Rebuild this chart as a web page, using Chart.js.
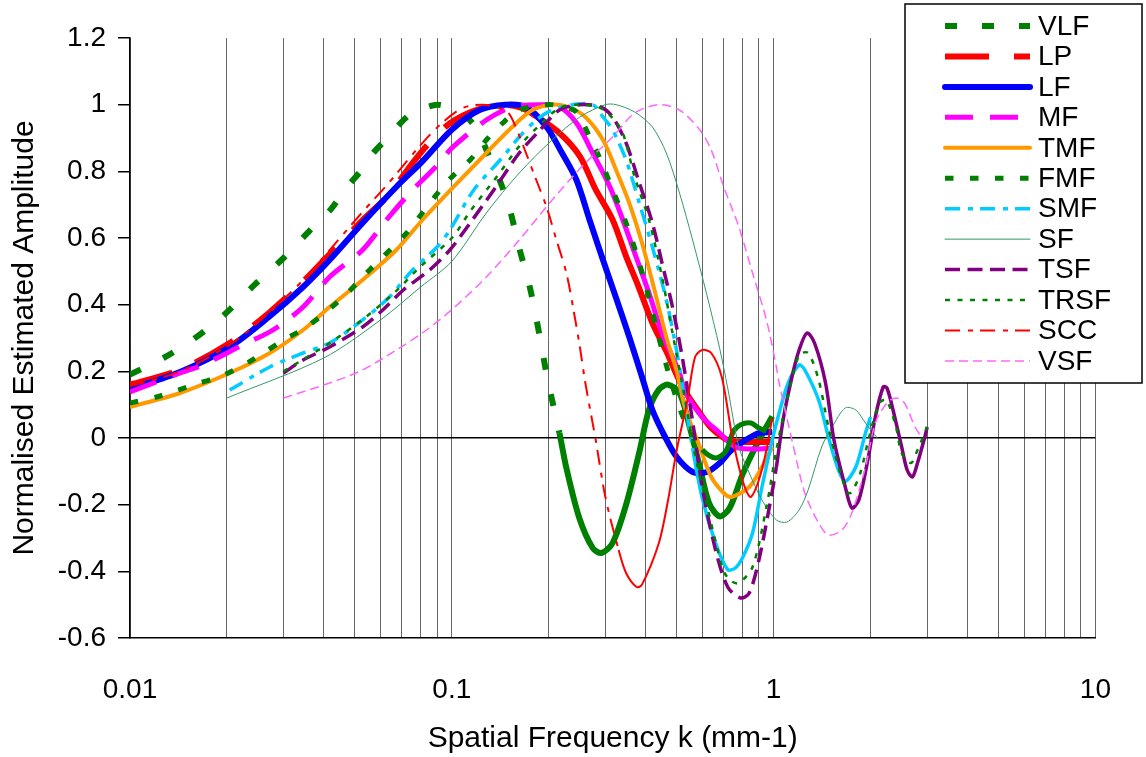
<!DOCTYPE html>
<html>
<head>
<meta charset="utf-8">
<script src="https://cdn.jsdelivr.net/npm/chart.js@4.4.1/dist/chart.umd.min.js"></script>
<style>
  html, body { margin: 0; padding: 0; background: #fff; }
  #wrap { width: 1146px; height: 757px; position: relative; }
</style>
</head>
<body>
<div id="wrap"><canvas id="chart"></canvas></div>
<script>
// Normalised amplitude vs spatial frequency, one [k, amplitude] list per filter

const VLF = [[0.01,0.19],[0.0127,0.24],[0.0154,0.29],[0.0186,0.35],[0.0204,0.385],[0.0244,0.46],[0.03,0.54],
  [0.036,0.62],[0.042,0.685],[0.047,0.75],[0.052,0.80],[0.057,0.855],[0.063,0.90],[0.067,0.93],[0.075,0.975],
  [0.082,0.99],[0.09,1.0],[0.1,0.99],[0.108,0.975],[0.12,0.925],[0.128,0.865],[0.14,0.78],[0.151,0.69],
  [0.162,0.57],[0.175,0.45],[0.188,0.30],[0.198,0.18],[0.216,0.015],[0.227,-0.09],[0.249,-0.24],[0.274,-0.33],
  [0.292,-0.345],[0.316,-0.315],[0.348,-0.2],[0.382,-0.045],[0.41,0.085],[0.44,0.145],[0.47,0.16],[0.51,0.135],
  [0.548,0.035],[0.589,-0.085],[0.63,-0.195],[0.68,-0.235],[0.73,-0.21],[0.8,-0.11],[0.88,-0.025],[0.99,0.065]];

const LP = [[0.01,0.16],[0.0143,0.205],[0.0204,0.285],[0.027,0.375],[0.035,0.475],[0.044,0.575],[0.053,0.655],
  [0.063,0.725],[0.0755,0.825],[0.085,0.885],[0.099,0.945],[0.12,0.985],[0.144,1.0],[0.165,0.99],[0.183,0.965],
  [0.216,0.915],[0.25,0.845],[0.28,0.745],[0.316,0.655],[0.348,0.545],[0.38,0.455],[0.42,0.345],[0.464,0.26],
  [0.52,0.155],[0.59,0.075],[0.64,0.03],[0.7,0.0],[0.74,-0.01],[0.86,-0.012],[0.99,-0.012]];

const LF = [[0.01,0.147],[0.0143,0.198],[0.0204,0.273],[0.027,0.363],[0.0345,0.453],[0.0417,0.534],[0.0528,0.645],
  [0.0672,0.753],[0.081,0.83],[0.1,0.925],[0.122,0.984],[0.147,1.0],[0.17,0.993],[0.197,0.933],[0.22,0.855],
  [0.244,0.774],[0.268,0.654],[0.295,0.534],[0.324,0.42],[0.356,0.303],[0.39,0.183],[0.42,0.084],[0.46,0.003],
  [0.5,-0.057],[0.56,-0.102],[0.62,-0.102],[0.68,-0.075],[0.74,-0.036],[0.82,-0.006],[0.9,0.015],[0.99,0.018]];

const MF = [[0.01,0.138],[0.0143,0.195],[0.0168,0.219],[0.0224,0.279],[0.0278,0.324],[0.0345,0.393],[0.0417,0.483],
  [0.0528,0.564],[0.0626,0.654],[0.0755,0.744],[0.0916,0.825],[0.1,0.87],[0.128,0.954],[0.154,0.993],[0.186,1.0],
  [0.216,0.993],[0.244,0.945],[0.274,0.855],[0.31,0.753],[0.34,0.654],[0.37,0.555],[0.41,0.435],[0.45,0.315],
  [0.51,0.195],[0.53,0.14],[0.6,0.063],[0.68,0.015],[0.76,-0.027],[0.86,-0.033],[0.99,-0.03]];

const TMF = [[0.01,0.093],[0.0143,0.135],[0.0204,0.195],[0.0272,0.255],[0.0345,0.324],[0.0417,0.393],[0.0528,0.474],
  [0.0672,0.564],[0.081,0.654],[0.1,0.748],[0.128,0.855],[0.154,0.933],[0.178,0.984],[0.205,1.0],[0.23,0.993],
  [0.26,0.963],[0.295,0.894],[0.324,0.804],[0.356,0.705],[0.39,0.585],[0.43,0.43],[0.464,0.303],[0.5,0.2],
  [0.53,0.093],[0.59,-0.027],[0.64,-0.117],[0.7,-0.165],[0.74,-0.177],[0.84,-0.147],[0.92,-0.087],[0.99,-0.027]];

const FMF = [[0.01,0.105],[0.0121,0.123],[0.0164,0.165],[0.019,0.183],[0.024,0.234],[0.03,0.294],[0.0354,0.333],
  [0.046,0.423],[0.0555,0.504],[0.0724,0.615],[0.081,0.675],[0.092,0.744],[0.1,0.783],[0.114,0.834],[0.128,0.894],
  [0.144,0.945],[0.162,0.984],[0.197,1.0],[0.22,0.995],[0.244,0.978],[0.268,0.903],[0.29,0.834],[0.316,0.744],
  [0.348,0.645],[0.38,0.534],[0.41,0.42],[0.44,0.3],[0.485,0.155],[0.53,0.05],[0.6,-0.035],[0.66,-0.06],
  [0.71,-0.04],[0.75,0.02],[0.79,0.04],[0.85,0.045],[0.9,0.03],[0.95,0.02]];

const SMF = [[0.0204,0.144],[0.0272,0.213],[0.0345,0.255],[0.0417,0.285],[0.0528,0.354],[0.064,0.423],[0.0755,0.504],
  [0.09,0.573],[0.0986,0.624],[0.117,0.744],[0.144,0.843],[0.162,0.903],[0.183,0.954],[0.205,0.984],[0.238,1.0],
  [0.274,1.0],[0.295,0.963],[0.316,0.924],[0.348,0.834],[0.38,0.714],[0.42,0.573],[0.464,0.414],[0.5,0.26],
  [0.52,0.16],[0.56,-0.03],[0.6,-0.18],[0.66,-0.315],[0.72,-0.395],[0.76,-0.39],[0.8,-0.36],[0.86,-0.285],
  [0.92,-0.147],[0.99,-0.006],[1.04,0.075],[1.11,0.165],[1.2,0.219],[1.25,0.204],[1.38,0.114],[1.48,0.003],
  [1.59,-0.096],[1.67,-0.13],[1.8,-0.087],[1.93,0.015],[2.0,0.063]];

const SF = [[0.02,0.12],[0.04,0.24],[0.06,0.354],[0.08,0.453],[0.1,0.53],[0.128,0.675],[0.162,0.795],[0.205,0.894],
  [0.25,0.963],[0.3,1.0],[0.324,1.0],[0.37,0.978],[0.42,0.933],[0.464,0.855],[0.51,0.735],[0.56,0.594],
  [0.62,0.43],[0.68,0.268],[0.72,0.15],[0.78,-0.027],[0.84,-0.105],[0.92,-0.186],[1.02,-0.246],[1.1,-0.252],
  [1.2,-0.216],[1.28,-0.156],[1.41,-0.027],[1.52,0.033],[1.67,0.09],[1.8,0.084],[1.93,0.045],[2.1,0.0]];

const TSF = [[0.03,0.195],[0.0345,0.234],[0.0417,0.273],[0.0528,0.333],[0.061,0.384],[0.0707,0.444],[0.0853,0.504],
  [0.0986,0.564],[0.114,0.645],[0.137,0.753],[0.162,0.855],[0.188,0.924],[0.216,0.984],[0.25,1.0],[0.29,0.993],
  [0.316,0.963],[0.348,0.885],[0.38,0.774],[0.42,0.645],[0.45,0.525],[0.485,0.393],[0.52,0.243],[0.56,0.05],
  [0.6,-0.147],[0.66,-0.336],[0.72,-0.447],[0.79,-0.48],[0.84,-0.465],[0.9,-0.366],[0.97,-0.207],[1.02,-0.087],
  [1.07,0.054],[1.14,0.183],[1.2,0.264],[1.27,0.315],[1.34,0.285],[1.45,0.165],[1.54,-0.006],[1.67,-0.147],
  [1.75,-0.21],[1.84,-0.186],[1.97,-0.057],[2.07,0.063],[2.19,0.153],[2.25,0.15],[2.35,0.084],[2.5,-0.027],
  [2.6,-0.096],[2.7,-0.117],[2.8,-0.075],[2.95,0.003],[3.0,0.033]];

const TRSF = [[0.03,0.2],[0.0417,0.285],[0.0528,0.355],[0.067,0.44],[0.079,0.51],[0.1,0.6],[0.114,0.68],[0.137,0.78],
  [0.162,0.875],[0.188,0.94],[0.216,0.99],[0.25,1.0],[0.29,0.99],[0.316,0.96],[0.34,0.915],[0.37,0.783],
  [0.41,0.654],[0.45,0.483],[0.485,0.315],[0.53,0.12],[0.57,-0.05],[0.62,-0.2],[0.66,-0.31],[0.7,-0.4],
  [0.74,-0.43],[0.78,-0.435],[0.86,-0.387],[0.95,-0.207],[1.02,-0.036],[1.1,0.114],[1.2,0.249],[1.28,0.255],
  [1.38,0.174],[1.48,0.033],[1.59,-0.087],[1.7,-0.165],[1.75,-0.162],[1.86,-0.105],[1.97,-0.006],[2.13,0.105],
  [2.24,0.114],[2.4,0.033],[2.5,-0.045],[2.67,-0.075],[2.8,-0.036],[3.0,0.033]];

const SCC = [[0.01,0.155],[0.0143,0.2],[0.0204,0.28],[0.027,0.375],[0.035,0.48],[0.044,0.59],[0.053,0.68],
  [0.063,0.76],[0.079,0.873],[0.092,0.94],[0.108,0.99],[0.125,1.0],[0.14,0.99],[0.15,0.975],[0.158,0.933],
  [0.17,0.855],[0.183,0.774],[0.197,0.693],[0.21,0.603],[0.227,0.495],[0.238,0.393],[0.25,0.273],[0.26,0.165],
  [0.28,-0.006],[0.3,-0.177],[0.33,-0.336],[0.348,-0.405],[0.375,-0.447],[0.39,-0.44],[0.44,-0.315],
  [0.47,-0.186],[0.5,-0.036],[0.54,0.114],[0.57,0.243],[0.6,0.264],[0.64,0.255],[0.69,0.183],[0.74,0.015],
  [0.78,-0.087],[0.82,-0.156],[0.85,-0.177],[0.9,-0.126],[0.95,-0.036],[0.99,0.06]];

const VSF = [[0.03,0.12],[0.0417,0.165],[0.0528,0.204],[0.0672,0.264],[0.081,0.315],[0.1,0.385],[0.128,0.483],
  [0.162,0.594],[0.205,0.714],[0.26,0.825],[0.316,0.903],[0.37,0.975],[0.44,1.0],[0.51,0.984],[0.59,0.924],
  [0.64,0.864],[0.7,0.753],[0.78,0.633],[0.86,0.495],[0.95,0.354],[1.02,0.213],[1.04,0.165],[1.14,-0.006],
  [1.25,-0.165],[1.38,-0.255],[1.48,-0.291],[1.63,-0.276],[1.75,-0.225],[1.93,-0.087],[2.07,0.045],[2.25,0.105],
  [2.4,0.12],[2.55,0.105],[2.75,0.033],[2.9,0.0]];

// Axis ticks
const xTicks = [0.01,0.02,0.03,0.04,0.05,0.06,0.07,0.08,0.09,
  0.1,0.2,0.3,0.4,0.5,0.6,0.7,0.8,0.9,
  1,2,3,4,5,6,7,8,9,10];
const xLabels = [0.01, 0.1, 1, 10];

// Series styles (Excel restarts the dash per segment, so dense parts look solid)
const series = [
  { label: 'VLF',  data: VLF,  color: '#008000', width: 6,   dash: [12, 25],        solidFrom: 0.2 },
  { label: 'LP',   data: LP,   color: '#ff0000', width: 6,   dash: [44, 25],        solidFrom: 0.17 },
  { label: 'LF',   data: LF,   color: '#0000ff', width: 6,   dash: [],              solidFrom: 0 },
  { label: 'MF',   data: MF,   color: '#ff00ff', width: 5,   dash: [28, 17],        solidFrom: 0.19 },
  { label: 'TMF',  data: TMF,  color: '#ff9900', width: 4,   dash: [],              solidFrom: 0 },
  { label: 'FMF',  data: FMF,  color: '#008000', width: 5,   dash: [8.5, 16.5],     solidFrom: 0.6 },
  { label: 'SMF',  data: SMF,  color: '#00ccff', width: 3.5, dash: [15, 8, 5, 7],   solidFrom: 0.55 },
  { label: 'SF',   data: SF,   color: '#339966', width: 1,   dash: [],              solidFrom: 0 },
  { label: 'TSF',  data: TSF,  color: '#800080', width: 3.5, dash: [15, 7.5],       solidFrom: 1.0 },
  { label: 'TRSF', data: TRSF, color: '#008000', width: 2.5, dash: [5, 7.5],        solidFrom: 99 },
  { label: 'SCC',  data: SCC,  color: '#ff0000', width: 2,   dash: [15, 8, 5, 7],   solidFrom: 0.33 },
  { label: 'VSF',  data: VSF,  color: '#ff66ff', width: 1.5, dash: [9, 5],          solidFrom: 99 }
];

const FONT = '"Liberation Sans", Arial, sans-serif';
Chart.defaults.font.family = FONT;
Chart.defaults.color = '#000';

// Legend drawn like the Excel box, on top of the plot
const legendBox = {
  id: 'legendBox',
  afterDraw(chart) {
    const ctx = chart.ctx;
    ctx.save();
    ctx.fillStyle = '#fff';
    ctx.fillRect(905, 4, 237, 379);
    ctx.strokeStyle = '#000';
    ctx.lineWidth = 1.5;
    ctx.strokeRect(905, 4, 237, 379);
    chart.data.datasets.forEach((ds, i) => {
      const y = 26 + i * 30.45;
      ctx.beginPath();
      ctx.setLineDash(ds.borderDash || []);
      ctx.lineWidth = ds.borderWidth;
      ctx.strokeStyle = ds.borderColor;
      ctx.lineCap = ds.borderDash && ds.borderDash.length ? 'butt' : 'round';
      ctx.moveTo(945, y);
      ctx.lineTo(1030, y);
      ctx.stroke();
      ctx.setLineDash([]);
      ctx.fillStyle = '#000';
      ctx.font = '28px ' + FONT;
      ctx.textBaseline = 'middle';
      ctx.fillText(ds.label, 1038, y + 1);
    });
    ctx.restore();
  }
};

new Chart(document.getElementById('chart'), {
  type: 'line',
  data: {
    datasets: series.map((s, i) => ({
      label: s.label,
      data: s.data.map(p => ({ x: p[0], y: p[1] })),
      borderColor: s.color,
      backgroundColor: s.color,
      borderWidth: s.width,
      borderDash: s.dash,
      borderJoinStyle: 'round',
      pointRadius: 0,
      pointHoverRadius: 0,
      tension: 0.3,
      fill: false,
      order: -i,
      segment: {
        borderDash: ctx => ctx.p0.parsed.x >= s.solidFrom ? [] : s.dash
      }
    }))
  },
  options: {
    responsive: true,
    maintainAspectRatio: false,
    animation: false,
    layout: { padding: { top: 38, right: 49, left: 0, bottom: 0 } },
    plugins: {
      legend: { display: false },
      tooltip: { enabled: false }
    },
    scales: {
      x: {
        type: 'logarithmic',
        min: 0.01,
        max: 10,
        afterBuildTicks: scale => { scale.ticks = xTicks.map(v => ({ value: v })); },
        afterFit: scale => { scale.height = 119; },
        ticks: {
          autoSkip: false,
          maxRotation: 0,
          padding: 35,
          font: { size: 28 },
          callback: v => xLabels.includes(v) ? String(v) : ''
        },
        grid: { color: '#666', lineWidth: 1, drawTicks: false },
        border: { color: '#000', width: 1.5 },
        title: {
          display: true,
          text: 'Spatial Frequency k (mm-1)',
          font: { size: 30 },
          padding: { top: 3, bottom: 0 }
        }
      },
      y: {
        min: -0.6,
        max: 1.2,
        afterFit: scale => { scale.width = 130; },
        ticks: {
          stepSize: 0.2,
          padding: 12,
          font: { size: 28 },
          callback: v => String(Number(v.toFixed(1)))
        },
        grid: {
          color: c => Math.abs(c.tick.value) < 1e-9 ? '#000' : 'rgba(0,0,0,0)',
          lineWidth: 1.5,
          tickColor: '#000',
          tickLength: 12
        },
        border: { color: '#000', width: 1.5 },
        title: {
          display: true,
          text: 'Normalised Estimated Amplitude',
          font: { size: 30 },
          padding: { top: 7, bottom: 0 }
        }
      }
    }
  },
  plugins: [legendBox]
});
</script>
</body>
</html>
